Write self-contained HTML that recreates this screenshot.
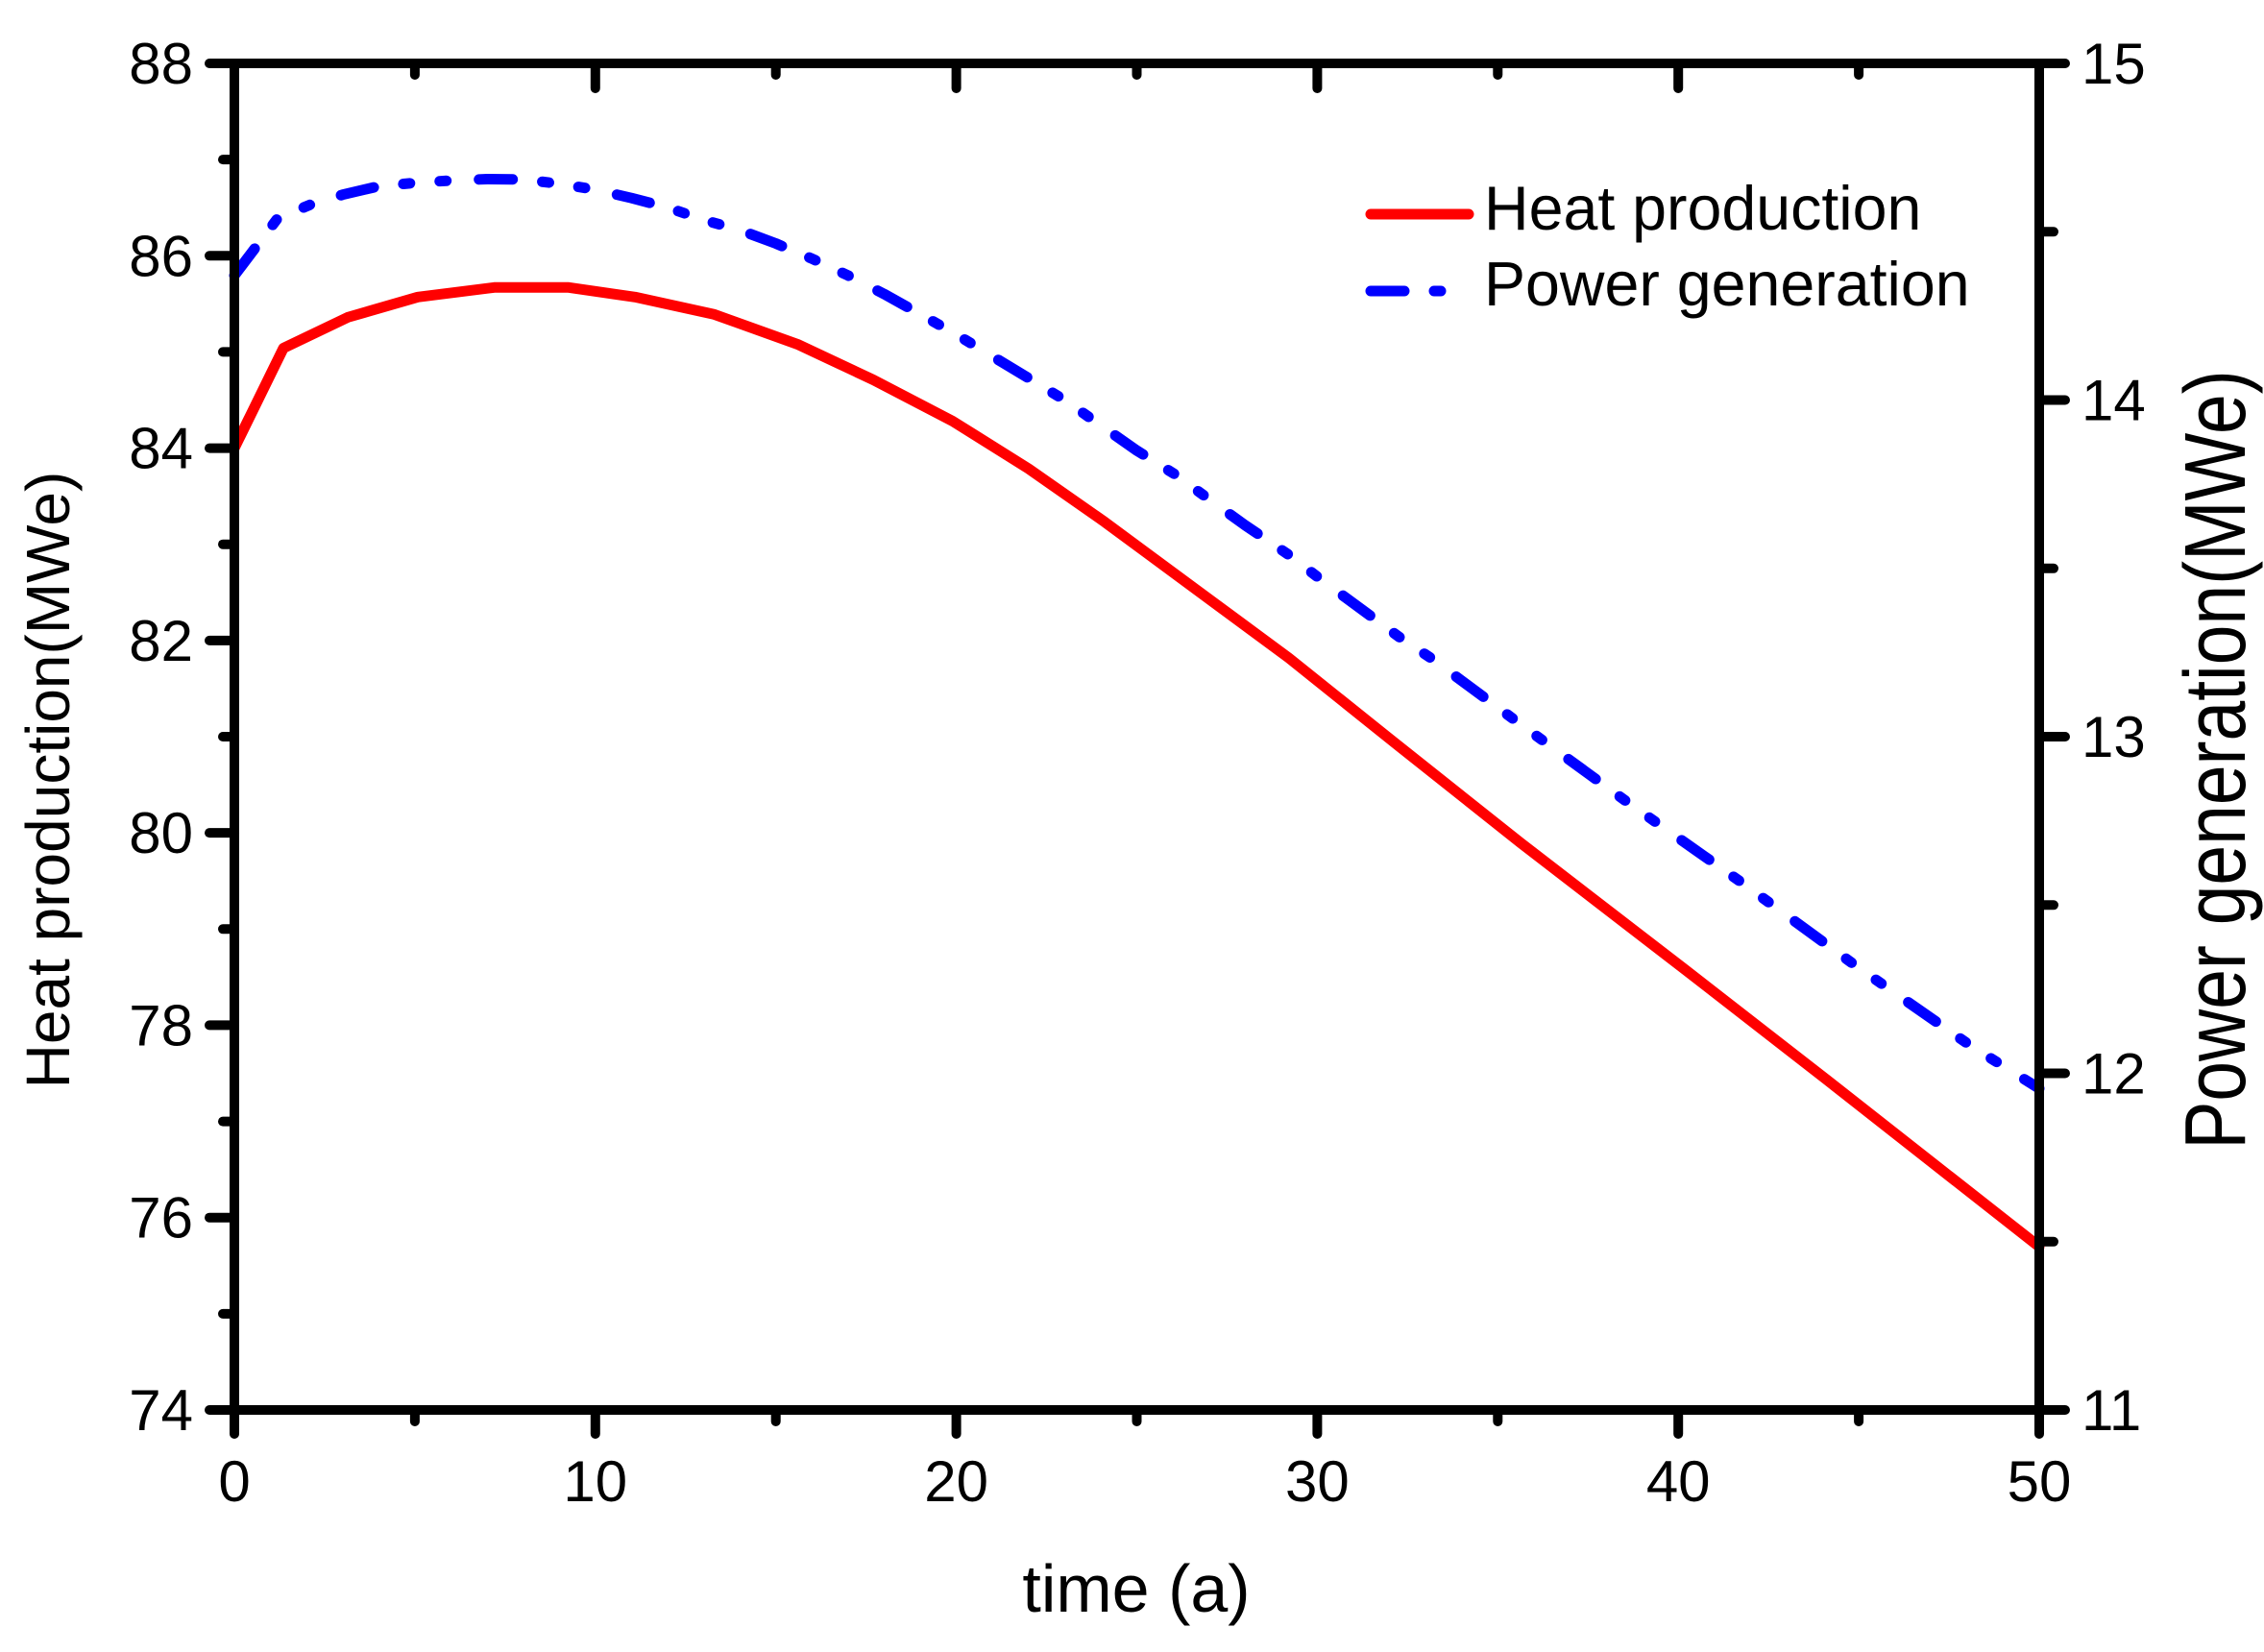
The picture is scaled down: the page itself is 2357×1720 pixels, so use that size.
<!DOCTYPE html>
<html>
<head>
<meta charset="utf-8">
<style>
  html, body { margin: 0; padding: 0; background: #ffffff; }
  svg { display: block; }
  text { font-family: "Liberation Sans", Arial, sans-serif; fill: #000; }
</style>
</head>
<body>
<svg width="2357" height="1720" viewBox="0 0 2357 1720" xmlns="http://www.w3.org/2000/svg">
  <rect x="0" y="0" width="2357" height="1720" fill="#ffffff"/>

  <!-- Heat production (red, left axis) -->
  <polyline fill="none" stroke="#ff0000" stroke-width="11" stroke-linejoin="round" stroke-linecap="round"
    points="244,466.6 295.1,362.4 362,330.4 434.9,309.3 514.6,299.3 592,299.3 661.1,309.3 743.8,327.4 830.2,358.4 909.2,395.5 991.8,438.5 1070.8,488 1150,543.4 1191.4,574 1341.7,685 1456,776.6 1583.4,877.8 1753,1008.5 1900,1122.8 2008,1207.7 2123,1298"/>

  <!-- Power generation (blue, right axis) -->
  <polyline fill="none" stroke="#0000ff" stroke-width="11" stroke-linejoin="round" stroke-linecap="round"
    stroke-dasharray="35 31 7 31 7 34"
    points="244,286.8 289.1,227.2 322.9,213.2 356.7,202.7 394.3,193.9 431.9,190.4 469.5,187.9 507.1,186.5 544.6,186.8 582.2,191.4 619.8,197.4 657.4,206.2 695,216 732.5,229 770.1,239.5 807.7,253.5 845.3,269.3 882.9,286.8 920.4,306.1 958,327.1 995.6,348.2 1033.2,371 1070.8,393.7 1108.3,416.5 1145.9,442.8 1183.5,469.1 1224.1,494.4 1258.7,519.8 1296.2,546.8 1341.3,577.4 1371.4,600.5 1457.8,664 1491.7,686.5 1578.1,750.5 1694.6,835.4 1814.8,920 1931.3,1005 2051.6,1088.8 2123,1133.3"/>

  <!-- Frame -->
  <rect x="244" y="66" width="1879" height="1402" fill="none" stroke="#000" stroke-width="10"/>

  <g stroke="#000" stroke-width="10" stroke-linecap="round">
    <!-- Left axis major ticks (74..88 step 2) -->
    <line x1="244" y1="66" x2="218" y2="66"/>
    <line x1="244" y1="266.3" x2="218" y2="266.3"/>
    <line x1="244" y1="466.6" x2="218" y2="466.6"/>
    <line x1="244" y1="666.9" x2="218" y2="666.9"/>
    <line x1="244" y1="867.1" x2="218" y2="867.1"/>
    <line x1="244" y1="1067.4" x2="218" y2="1067.4"/>
    <line x1="244" y1="1267.7" x2="218" y2="1267.7"/>
    <line x1="244" y1="1468" x2="218" y2="1468"/>
    <!-- Left minor -->
    <line x1="244" y1="166.1" x2="232" y2="166.1"/>
    <line x1="244" y1="366.4" x2="232" y2="366.4"/>
    <line x1="244" y1="566.7" x2="232" y2="566.7"/>
    <line x1="244" y1="767" x2="232" y2="767"/>
    <line x1="244" y1="967.3" x2="232" y2="967.3"/>
    <line x1="244" y1="1167.6" x2="232" y2="1167.6"/>
    <line x1="244" y1="1367.9" x2="232" y2="1367.9"/>

    <!-- Right axis major ticks (11..15) -->
    <line x1="2123" y1="66" x2="2150" y2="66"/>
    <line x1="2123" y1="416.5" x2="2150" y2="416.5"/>
    <line x1="2123" y1="767" x2="2150" y2="767"/>
    <line x1="2123" y1="1117.5" x2="2150" y2="1117.5"/>
    <line x1="2123" y1="1468" x2="2150" y2="1468"/>
    <!-- Right minor -->
    <line x1="2123" y1="241.3" x2="2138" y2="241.3"/>
    <line x1="2123" y1="591.8" x2="2138" y2="591.8"/>
    <line x1="2123" y1="942.3" x2="2138" y2="942.3"/>
    <line x1="2123" y1="1292.8" x2="2138" y2="1292.8"/>

    <!-- Bottom axis major (0..50 step 10) -->
    <line x1="244" y1="1468" x2="244" y2="1493"/>
    <line x1="619.8" y1="1468" x2="619.8" y2="1493"/>
    <line x1="995.6" y1="1468" x2="995.6" y2="1493"/>
    <line x1="1371.4" y1="1468" x2="1371.4" y2="1493"/>
    <line x1="1747.2" y1="1468" x2="1747.2" y2="1493"/>
    <line x1="2123" y1="1468" x2="2123" y2="1493"/>
    <!-- Bottom minor -->
    <line x1="431.9" y1="1468" x2="431.9" y2="1480"/>
    <line x1="807.7" y1="1468" x2="807.7" y2="1480"/>
    <line x1="1183.5" y1="1468" x2="1183.5" y2="1480"/>
    <line x1="1559.3" y1="1468" x2="1559.3" y2="1480"/>
    <line x1="1935.1" y1="1468" x2="1935.1" y2="1480"/>

    <!-- Top axis inward ticks -->
    <line x1="619.8" y1="66" x2="619.8" y2="92"/>
    <line x1="995.6" y1="66" x2="995.6" y2="92"/>
    <line x1="1371.4" y1="66" x2="1371.4" y2="92"/>
    <line x1="1747.2" y1="66" x2="1747.2" y2="92"/>
    <line x1="431.9" y1="66" x2="431.9" y2="78"/>
    <line x1="807.7" y1="66" x2="807.7" y2="78"/>
    <line x1="1183.5" y1="66" x2="1183.5" y2="78"/>
    <line x1="1559.3" y1="66" x2="1559.3" y2="78"/>
    <line x1="1935.1" y1="66" x2="1935.1" y2="78"/>
  </g>

  <!-- Left tick labels -->
  <g font-size="60" text-anchor="end">
    <text x="201" y="87">88</text>
    <text x="201" y="287.3">86</text>
    <text x="201" y="487.6">84</text>
    <text x="201" y="687.9">82</text>
    <text x="201" y="888.1">80</text>
    <text x="201" y="1088.4">78</text>
    <text x="201" y="1288.7">76</text>
    <text x="201" y="1489">74</text>
  </g>

  <!-- Right tick labels -->
  <g font-size="60" text-anchor="start">
    <text x="2167" y="87">15</text>
    <text x="2167" y="437.5">14</text>
    <text x="2167" y="788">13</text>
    <text x="2167" y="1138.5">12</text>
    <text x="2167" y="1489">11</text>
  </g>

  <!-- Bottom tick labels -->
  <g font-size="60" text-anchor="middle">
    <text x="244" y="1563">0</text>
    <text x="619.8" y="1563">10</text>
    <text x="995.6" y="1563">20</text>
    <text x="1371.4" y="1563">30</text>
    <text x="1747.2" y="1563">40</text>
    <text x="2123" y="1563">50</text>
  </g>

  <!-- Axis titles -->
  <text x="1183" y="1678" font-size="70" text-anchor="middle">time (a)</text>
  <text transform="translate(72,812) rotate(-90)" font-size="64" text-anchor="middle">Heat production(MWe)</text>
  <text transform="translate(2337,791) rotate(-90) scale(1,1.2)" font-size="75" text-anchor="middle">Power generation(MWe)</text>

  <!-- Legend -->
  <line x1="1427" y1="223" x2="1529" y2="223" stroke="#ff0000" stroke-width="11" stroke-linecap="round"/>
  <line x1="1427" y1="303" x2="1529" y2="303" stroke="#0000ff" stroke-width="11" stroke-linecap="round" stroke-dasharray="35 31 7 31 7 34"/>
  <text x="1545" y="239" font-size="64.5">Heat production</text>
  <text x="1545" y="318" font-size="64.5">Power generation</text>
</svg>
</body>
</html>
